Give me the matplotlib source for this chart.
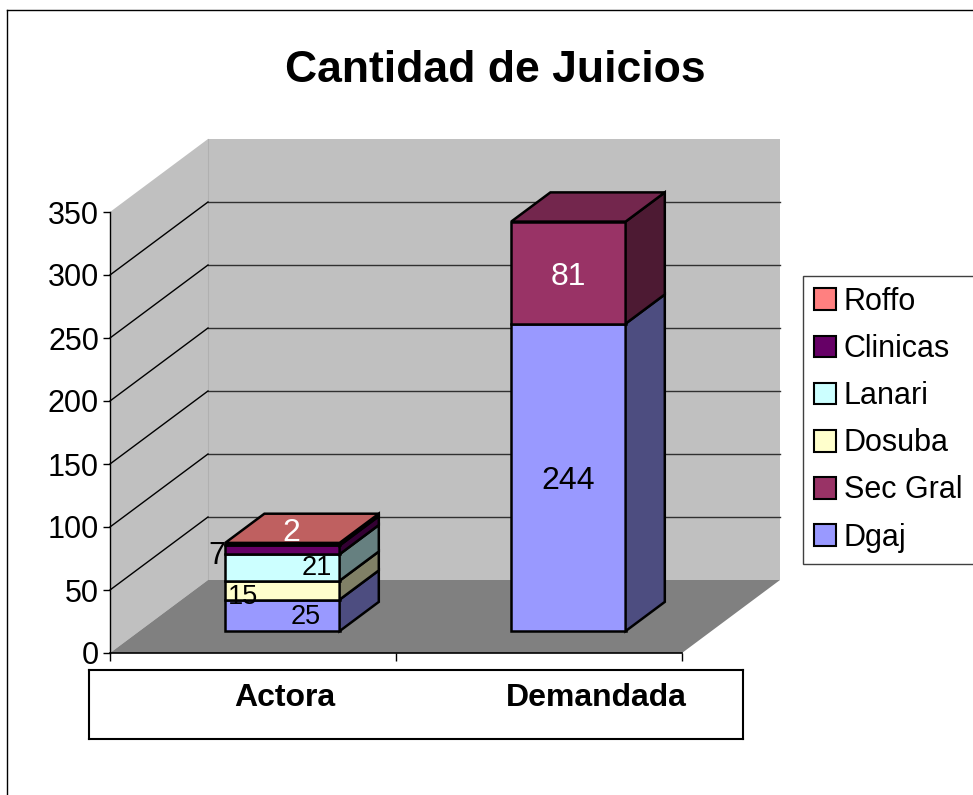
import matplotlib
matplotlib.use("Agg")
import matplotlib.pyplot as plt
from matplotlib.patches import Polygon, Patch
import numpy as np

plt.rcParams['font.family'] = ['Liberation Sans', 'DejaVu Sans']

# --- data ---
categories = ['Actora', 'Demandada']
series_names = ['Dgaj', 'Sec Gral', 'Dosuba', 'Lanari', 'Clinicas', 'Roffo']  # bottom -> top
dgaj = [25, 244]
sec_gral = [0, 81]
dosuba = [15, 0]
lanari = [21, 0]
clinicas = [7, 0]
roffo = [2, 0]
series_values = [dgaj, sec_gral, dosuba, lanari, clinicas, roffo]
y_ticks = [0, 50, 100, 150, 200, 250, 300, 350]

colors = ['#9999FF', '#993366', '#FFFFCC', '#CCFFFF', '#660066', '#FF8080']

# label tweaks (offset in pixels right/down, font size) keyed by (cat index, series)
label_style = {
    (0, 'Dgaj'): (23, 2, 19.5, 'black'),
    (0, 'Dosuba'): (-39, 7, 19.5, 'black'),
    (0, 'Lanari'): (34, 1, 19.5, 'black'),
    (0, 'Clinicas'): (-66, 6, 22, 'black'),
    (0, 'Roffo'): (9, -11, 23, 'white'),
    (1, 'Dgaj'): (0, 4, 23, 'black'),
    (1, 'Sec Gral'): (0, 4, 23, 'white'),
}
cat_label_pos = [0.11, 1.2]

W, H = 973, 795
fig = plt.figure(figsize=(W / 100, H / 100), dpi=100)

# outer chart border (only left/top fall inside the picture)
fig.add_artist(plt.Line2D([7 / W, 7 / W], [0, 1 - 10 / H], color='black', lw=1, transform=fig.transFigure))
fig.add_artist(plt.Line2D([7 / W, 1], [1 - 10 / H, 1 - 10 / H], color='black', lw=1, transform=fig.transFigure))

fig.text(495 / W, 1 - 71 / H, 'Cantidad de Juicios', ha='center', va='center',
         fontsize=32, fontweight='bold')

# front plane of the 3d box
ax = fig.add_axes([110 / W, 1 - 653 / H, 572 / W, 441 / H])
ax.set_xlim(-0.5, 1.5)
ax.set_ylim(0, 350)
ax.patch.set_visible(False)

DX = 98 / 286.0          # depth shift in category units
DY = 73 / (441 / 350.0)  # depth shift in value units
x0, x1, ytop = -0.5, 1.5, 350

# walls and floor
left_wall = Polygon([(x0, 0), (x0 + DX, DY), (x0 + DX, ytop + DY), (x0, ytop)],
                    closed=True, fc='#C0C0C0', ec='none', zorder=0.1, clip_on=False)
back_wall = Polygon([(x0 + DX, DY), (x1 + DX, DY), (x1 + DX, ytop + DY), (x0 + DX, ytop + DY)],
                    closed=True, fc='#C0C0C0', ec='none', zorder=0.1, clip_on=False)
floor = Polygon([(x0, 0), (x1, 0), (x1 + DX, DY), (x0 + DX, DY)],
                closed=True, fc='#808080', ec='none', zorder=0.15, clip_on=False)
for p in (left_wall, back_wall, floor):
    ax.add_patch(p)
ax.plot([x0 + DX, x0 + DX], [DY, ytop + DY], color='#B0B0B0', lw=0.8, zorder=0.12, clip_on=False)

for v in y_ticks[1:-1]:
    ax.plot([x0 + DX, x1 + DX], [v + DY, v + DY], color='#303030', lw=1, zorder=0.2, clip_on=False)
    ax.plot([x0, x0 + DX], [v, v + DY], color='black', lw=1, zorder=0.2, clip_on=False)

# stacked 3d bars
bar_w = 0.4
d0, d1 = 0.3, 0.7
fx, fy = d0 * DX, d0 * DY
sx, sy = (d1 - d0) * DX, (d1 - d0) * DY


def shade(c, f):
    r, g, b = matplotlib.colors.to_rgb(c)
    return (r * f, g * f, b * f)


xpos = np.arange(len(categories))
bottoms = np.zeros(len(categories))
tops_idx = [max(i for i, s in enumerate(series_values) if s[k] > 0) for k in range(len(categories))]
for i, (name, vals) in enumerate(zip(series_names, series_values)):
    vals = np.array(vals, dtype=float)
    for k in range(len(categories)):
        if vals[k] <= 0:
            continue
        b = bottoms[k] + fy
        t = b + vals[k]
        xl = xpos[k] + fx - bar_w / 2
        xr = xpos[k] + fx + bar_w / 2
        ax.bar(xpos[k] + fx, vals[k], width=bar_w, bottom=b, color=colors[i],
               edgecolor='black', lw=1.8, zorder=2, clip_on=False)
        ax.add_patch(Polygon([(xr, b), (xr + sx, b + sy), (xr + sx, t + sy), (xr, t)], closed=True,
                             fc=shade(colors[i], 0.5), ec='black', lw=1.8, zorder=2, clip_on=False))
        if i == tops_idx[k]:
            ax.add_patch(Polygon([(xl, t), (xr, t), (xr + sx, t + sy), (xl + sx, t + sy)], closed=True,
                                 fc=shade(colors[i], 0.75), ec='black', lw=1.8, zorder=2, clip_on=False))
        ox, oy, fs, col = label_style[(k, name)]
        ax.annotate(f'{int(vals[k])}', (xpos[k] + fx, b + vals[k] / 2),
                    xytext=(ox * 0.72, -oy * 0.72), textcoords='offset points',
                    ha='center', va='center', fontsize=fs, color=col, zorder=5,
                    annotation_clip=False)
    bottoms += vals

# axes look
for s in ('top', 'right'):
    ax.spines[s].set_visible(False)
ax.spines['left'].set_linewidth(1)
ax.spines['bottom'].set_linewidth(1.2)
ax.spines['left'].set_zorder(0.3)
ax.spines['bottom'].set_zorder(0.3)
ax.set_yticks(y_ticks)
ax.set_yticklabels([str(v) for v in y_ticks], fontsize=22)
ax.set_xticks([-0.5, 0.5, 1.5])
ax.set_xticklabels([])
ax.tick_params(axis='y', direction='out', length=5, width=1, pad=3)
ax.tick_params(axis='x', direction='out', length=6, width=1)

# category label box
cax = fig.add_axes([89 / W, 1 - 739 / H, 654 / W, 69 / H])
cax.set_xlim(-0.5 + (89 - 110) / 286, -0.5 + (743 - 110) / 286)
cax.set_ylim(0, 1)
cax.set_xticks([])
cax.set_yticks([])
for s in cax.spines.values():
    s.set_linewidth(1.5)
for k, c in enumerate(categories):
    cax.text(cat_label_pos[k], 0.6, c, ha='center', va='center', fontsize=23, fontweight='bold')

# legend (reversed as in the original), runs off the right edge like the original
handles = [Patch(facecolor=colors[i], edgecolor='black', lw=1.5) for i in range(len(series_names))][::-1]
leg = fig.legend(handles, series_names[::-1], loc='upper left',
                 bbox_to_anchor=(803 / W, 1 - 276 / H, 300 / W, 0), mode='expand',
                 fontsize=22, handlelength=0.72, handleheight=0.72, handletextpad=0.25,
                 labelspacing=0.56, borderpad=0.36, borderaxespad=0, fancybox=False,
                 edgecolor='#404040', framealpha=1)
leg.get_frame().set_linewidth(1)

fig.savefig('out.png', dpi=100)
